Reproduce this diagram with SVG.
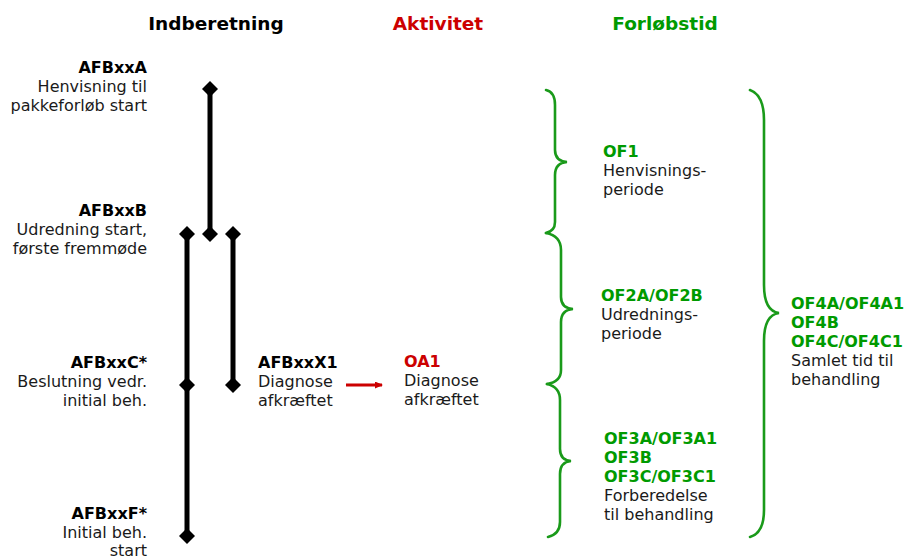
<svg xmlns="http://www.w3.org/2000/svg" width="907" height="557" viewBox="0 0 907 557">
<defs>
<style>
text{font-family:"DejaVu Sans","Verdana",sans-serif;font-size:16px;fill:#1a1a1a}
.b{font-weight:bold;fill:#000}
.h{font-weight:bold;font-size:18.5px;fill:#000}
.red{fill:#cc0000}
.grn{fill:#009a00}
.r{text-anchor:end}
.c{text-anchor:middle}
.bar{stroke:#000;stroke-width:5;fill:none}
.dia{fill:#000}
.brace{stroke:#1a9a1a;stroke-width:2.6;fill:none;stroke-linecap:round}
</style>
<marker id="ah" viewBox="0 0 8 7" refX="7" refY="3.5" markerWidth="8" markerHeight="7" orient="auto" markerUnits="userSpaceOnUse">
<path d="M0,0 L8,3.5 L0,7 z" fill="#cc0000"/>
</marker>
</defs>

<g id="headers">
<text class="h c" x="216" y="30">Indberetning</text>
<text class="h c red" x="438" y="30">Aktivitet</text>
<text class="h c grn" x="665" y="30">Forløbstid</text>
</g>

<g id="connectors">
<line class="bar" x1="210" y1="89" x2="210" y2="234"/>
<line class="bar" x1="187" y1="234" x2="187" y2="536"/>
<line class="bar" x1="233" y1="234" x2="233" y2="384"/>
<line x1="346" y1="385" x2="382" y2="385" stroke="#cc0000" stroke-width="3" marker-end="url(#ah)"/>
</g>

<g id="markers">
<path class="dia" d="M210,81 L218,89 L210,97 L202,89 Z"/>
<path class="dia" d="M210,226 L218,234 L210,242 L202,234 Z"/>
<path class="dia" d="M187,226 L195,234 L187,242 L179,234 Z"/>
<path class="dia" d="M233,226 L241,234 L233,242 L225,234 Z"/>
<path class="dia" d="M187,377 L195,385 L187,393 L179,385 Z"/>
<path class="dia" d="M233,377 L241,385 L233,393 L225,385 Z"/>
<path class="dia" d="M187,528 L195,536 L187,544 L179,536 Z"/>
</g>

<g id="AFBxxA">
<text class="r" x="147" y="73"><tspan class="b">AFBxxA</tspan><tspan x="147" dy="19">Henvisning til</tspan><tspan x="147" dy="19">pakkeforløb start</tspan></text>
</g>
<g id="AFBxxB">
<text class="r" x="147" y="216"><tspan class="b">AFBxxB</tspan><tspan x="147" dy="19">Udredning start,</tspan><tspan x="147" dy="19">første fremmøde</tspan></text>
</g>
<g id="AFBxxC">
<text class="r" x="147" y="368"><tspan class="b">AFBxxC*</tspan><tspan x="147" dy="19">Beslutning vedr.</tspan><tspan x="147" dy="19">initial beh.</tspan></text>
</g>
<g id="AFBxxF">
<text class="r" x="147" y="519"><tspan class="b">AFBxxF*</tspan><tspan x="147" dy="19">Initial beh.</tspan><tspan x="147" dy="18">start</tspan></text>
</g>
<g id="AFBxxX1">
<text x="258" y="368"><tspan class="b">AFBxxX1</tspan><tspan x="258" dy="19">Diagnose</tspan><tspan x="258" dy="19">afkræftet</tspan></text>
</g>
<g id="OA1">
<text x="404" y="367"><tspan class="b red">OA1</tspan><tspan x="404" dy="19">Diagnose</tspan><tspan x="404" dy="19">afkræftet</tspan></text>
</g>

<g id="braces">
<path class="brace" d="M546,90 Q555,92 555,105 L555,150 Q555,161 567,162 Q555,163 555,175 L555,222 Q555,231 546,233"/>
<path class="brace" d="M546,233 Q561,236 561,250 L561,297 Q561,308 573,309 Q561,310 561,322 L561,370 Q561,382 547,384"/>
<path class="brace" d="M547,384 Q560,387 560,400 L560,449 Q560,460 571,461 Q560,462 560,474 L560,522 Q560,534 548,537"/>
<path class="brace" d="M750,90 Q764,95 764,120 L764,285 Q764,311 779,313 Q764,315 764,341 L764,510 Q764,533 750,537"/>
</g>

<g id="OF1">
<text x="603" y="157"><tspan class="b grn">OF1</tspan><tspan x="603" dy="19">Henvisnings-</tspan><tspan x="603" dy="19">periode</tspan></text>
</g>
<g id="OF2">
<text x="601" y="301"><tspan class="b grn">OF2A/OF2B</tspan><tspan x="601" dy="19">Udrednings-</tspan><tspan x="601" dy="19">periode</tspan></text>
</g>
<g id="OF3">
<text x="604" y="444"><tspan class="b grn">OF3A/OF3A1</tspan><tspan x="604" dy="19" class="b grn">OF3B</tspan><tspan x="604" dy="19" class="b grn">OF3C/OF3C1</tspan><tspan x="604" dy="19">Forberedelse</tspan><tspan x="604" dy="19">til behandling</tspan></text>
</g>
<g id="OF4">
<text x="791" y="309"><tspan class="b grn">OF4A/OF4A1</tspan><tspan x="791" dy="19" class="b grn">OF4B</tspan><tspan x="791" dy="19" class="b grn">OF4C/OF4C1</tspan><tspan x="791" dy="19">Samlet tid til</tspan><tspan x="791" dy="19">behandling</tspan></text>
</g>
</svg>
